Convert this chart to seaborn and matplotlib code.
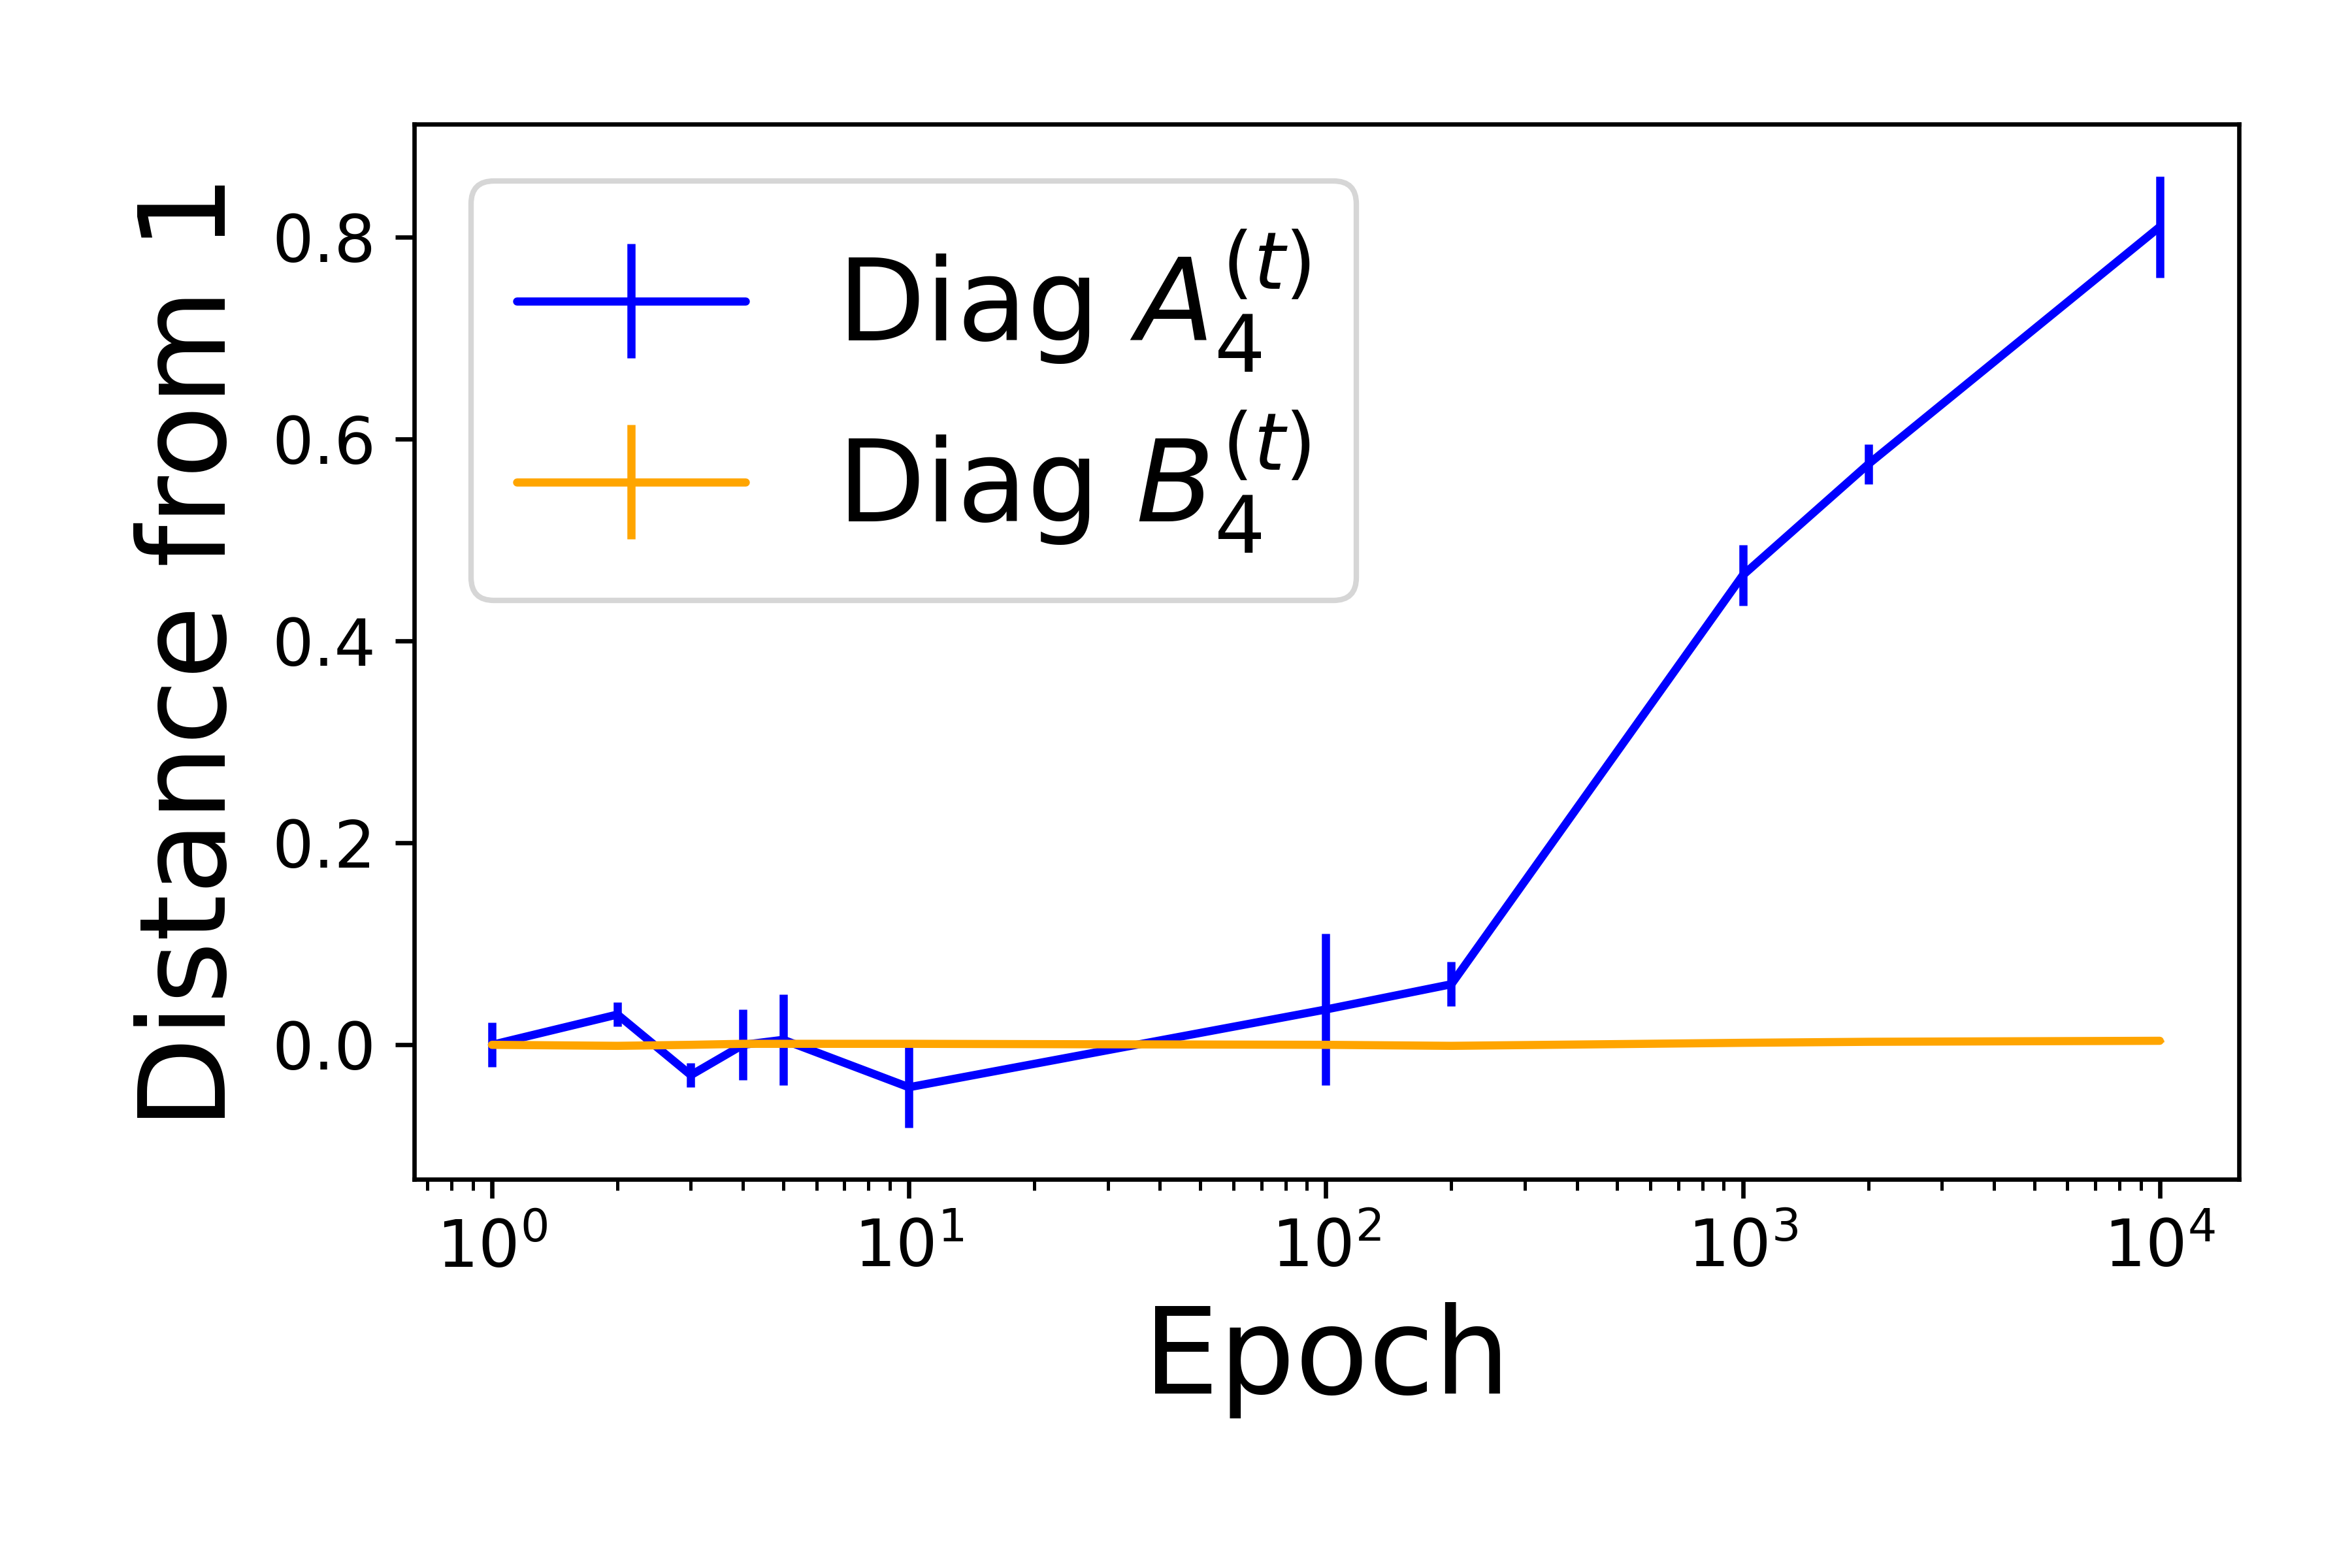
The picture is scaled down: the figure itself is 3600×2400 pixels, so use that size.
import numpy as np
import pandas as pd
import matplotlib
matplotlib.use("Agg")
import matplotlib.pyplot as plt
import seaborn as sns

epochs = [1, 2, 3, 4, 5, 10, 100, 200, 1000, 2000, 10000]
diag_a = [0.0, 0.03, -0.03, 0.0, 0.005, -0.042, 0.035, 0.06, 0.465, 0.575, 0.81]
diag_a_err = [0.022, 0.012, 0.012, 0.035, 0.045, 0.04, 0.075, 0.022, 0.03, 0.02, 0.05]
diag_b = [0.0, -0.001, 0.0, 0.001, 0.001, 0.001, 0.0, -0.001, 0.002, 0.003, 0.004]
diag_b_err = [0.001] * 11

sns.set_theme(style="ticks", rc={
    "font.family": "DejaVu Sans", "mathtext.fontset": "dejavusans",
    "text.color": "black", "axes.labelcolor": "black",
    "xtick.color": "black", "ytick.color": "black",
    "xtick.major.size": 3.5, "ytick.major.size": 3.5,
    "xtick.minor.size": 2, "ytick.minor.size": 2,
    "xtick.major.width": 0.8, "ytick.major.width": 0.8,
    "xtick.minor.width": 0.6,
})

fig = plt.figure(figsize=(6, 4), dpi=600)
ax = fig.add_axes([0.176, 0.248, 0.776, 0.673])

df = pd.DataFrame({"epoch": epochs, "a": diag_a, "b": diag_b})
ax.errorbar(df["epoch"], df["a"], yerr=diag_a_err, color="blue", lw=1.5,
            elinewidth=1.5, capsize=0, label=r"Diag $A_4^{(t)}$")
ax.errorbar(df["epoch"], df["b"], yerr=diag_b_err, color="orange", lw=1.5,
            elinewidth=1.5, capsize=0, label=r"Diag $B_4^{(t)}$")

ax.set_xscale("log")
ax.set_xlim(0.65, 15500)
ax.set_ylim(-0.133, 0.912)
ax.set_yticks([0.0, 0.2, 0.4, 0.6, 0.8])
ax.tick_params(labelsize=12)
for s in ax.spines.values():
    s.set_linewidth(0.8)
    s.set_color("black")
ax.set_xlabel("Epoch", fontsize=22)
ax.set_ylabel("Distance from 1", fontsize=22)
ax.legend(loc="upper left", fontsize=21, handlelength=2.0, borderpad=0.4,
          labelspacing=0.3, handletextpad=0.8)

fig.savefig("out.png", dpi=600)
